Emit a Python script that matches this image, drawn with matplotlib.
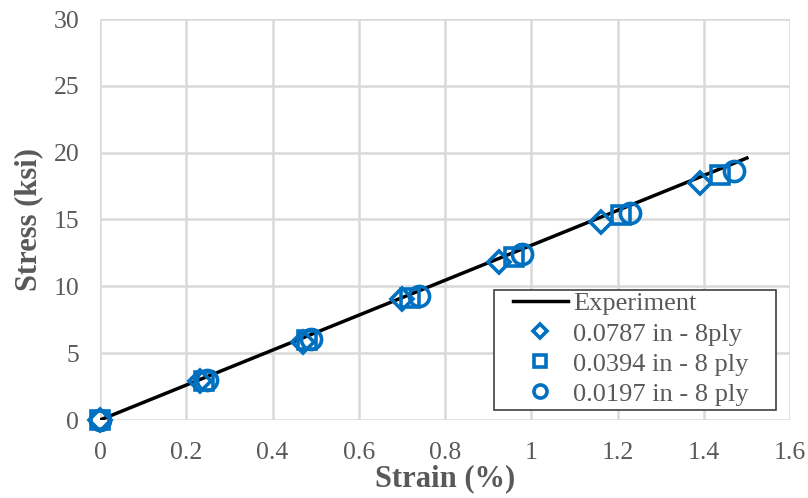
import matplotlib
matplotlib.use("Agg")
import matplotlib.pyplot as plt
from matplotlib.patches import Rectangle

# Experimental stress-strain line
exp_strain = [0.0, 1.5]
exp_stress = [0.0, 19.6]

# Simulated results for three element sizes
strain_0787 = [0.0, 0.233, 0.471, 0.700, 0.925, 1.161, 1.392]
stress_0787 = [0.0, 2.9, 5.85, 9.05, 11.85, 14.85, 17.75]

strain_0394 = [0.0, 0.240, 0.480, 0.718, 0.960, 1.207, 1.438]
stress_0394 = [0.0, 2.95, 5.95, 9.15, 12.2, 15.3, 18.35]

strain_0197 = [0.0, 0.247, 0.490, 0.740, 0.979, 1.228, 1.469]
stress_0197 = [0.0, 3.0, 6.05, 9.25, 12.45, 15.5, 18.6]

xticks = [0, 0.2, 0.4, 0.6, 0.8, 1, 1.2, 1.4, 1.6]
xtick_labels = ["0", "0.2", "0.4", "0.6", "0.8", "1", "1.2", "1.4", "1.6"]
yticks = [0, 5, 10, 15, 20, 25, 30]

plt.rcParams["font.family"] = ["Liberation Serif", "DejaVu Serif"]

blue = "#0070C0"
grey_text = "#595959"

W, H = 808, 498
ax_l, ax_r, ax_t, ax_b = 100, 790, 19, 420   # plot area edges in pixels
aw, ah = ax_r - ax_l, ax_b - ax_t

fig = plt.figure(figsize=(W / 100, H / 100), dpi=100)
ax = fig.add_axes([ax_l / W, 1 - ax_b / H, aw / W, ah / H])

ax.plot(exp_strain, exp_stress, color="black", lw=2.5, label="Experiment", zorder=3)
ax.plot(strain_0787, stress_0787, ls="none", marker="D", ms=11.5, mfc="none",
        mec=blue, mew=2.6, label="0.0787 in - 8ply", zorder=4, clip_on=False)
ax.plot(strain_0394, stress_0394, ls="none", marker="s", ms=13.5, mfc="none",
        mec=blue, mew=2.6, label="0.0394 in - 8 ply", zorder=4, clip_on=False)
ax.plot(strain_0197, stress_0197, ls="none", marker="o", ms=14.5, mfc="none",
        mec=blue, mew=2.6, label="0.0197 in - 8 ply", zorder=4, clip_on=False)

ax.set_xlim(0, 1.6)
ax.set_ylim(0, 30)
ax.set_xticks(xticks)
ax.set_xticklabels(xtick_labels)
ax.set_yticks(yticks)
ax.grid(True, color="#D9D9D9", lw=1.8)
ax.set_axisbelow(True)
for s in ax.spines.values():
    s.set_visible(False)
ax.tick_params(length=0, labelsize=18.5, colors=grey_text)
ax.tick_params(axis="x", pad=16)
ax.tick_params(axis="y", pad=15)

ax.set_xlabel("Strain (%)", fontsize=22, fontweight="bold", color=grey_text, labelpad=0)
ax.set_ylabel("Stress (ksi)", fontsize=22, fontweight="bold", color=grey_text, labelpad=7)

# Legend box (Excel-style padding) drawn as a separate frame
box_l, box_r, box_t, box_b = 494, 776, 290, 410
ax.add_patch(Rectangle(((box_l - ax_l) / aw, (ax_b - box_b) / ah),
                       (box_r - box_l) / aw, (box_b - box_t) / ah,
                       transform=ax.transAxes, facecolor="white",
                       edgecolor="#404040", lw=1.2, zorder=5, clip_on=False))

leg = ax.legend(loc="upper left", bbox_to_anchor=((513 - ax_l) / aw, (ax_b - 292) / ah),
                fontsize=19, frameon=False, borderpad=0, labelspacing=0.25,
                handlelength=2.08, handletextpad=0.19, markerscale=0.65,
                borderaxespad=0)
leg.set_zorder(6)
for t in leg.get_texts():
    t.set_color(grey_text)

fig.savefig("out.png", dpi=100)
